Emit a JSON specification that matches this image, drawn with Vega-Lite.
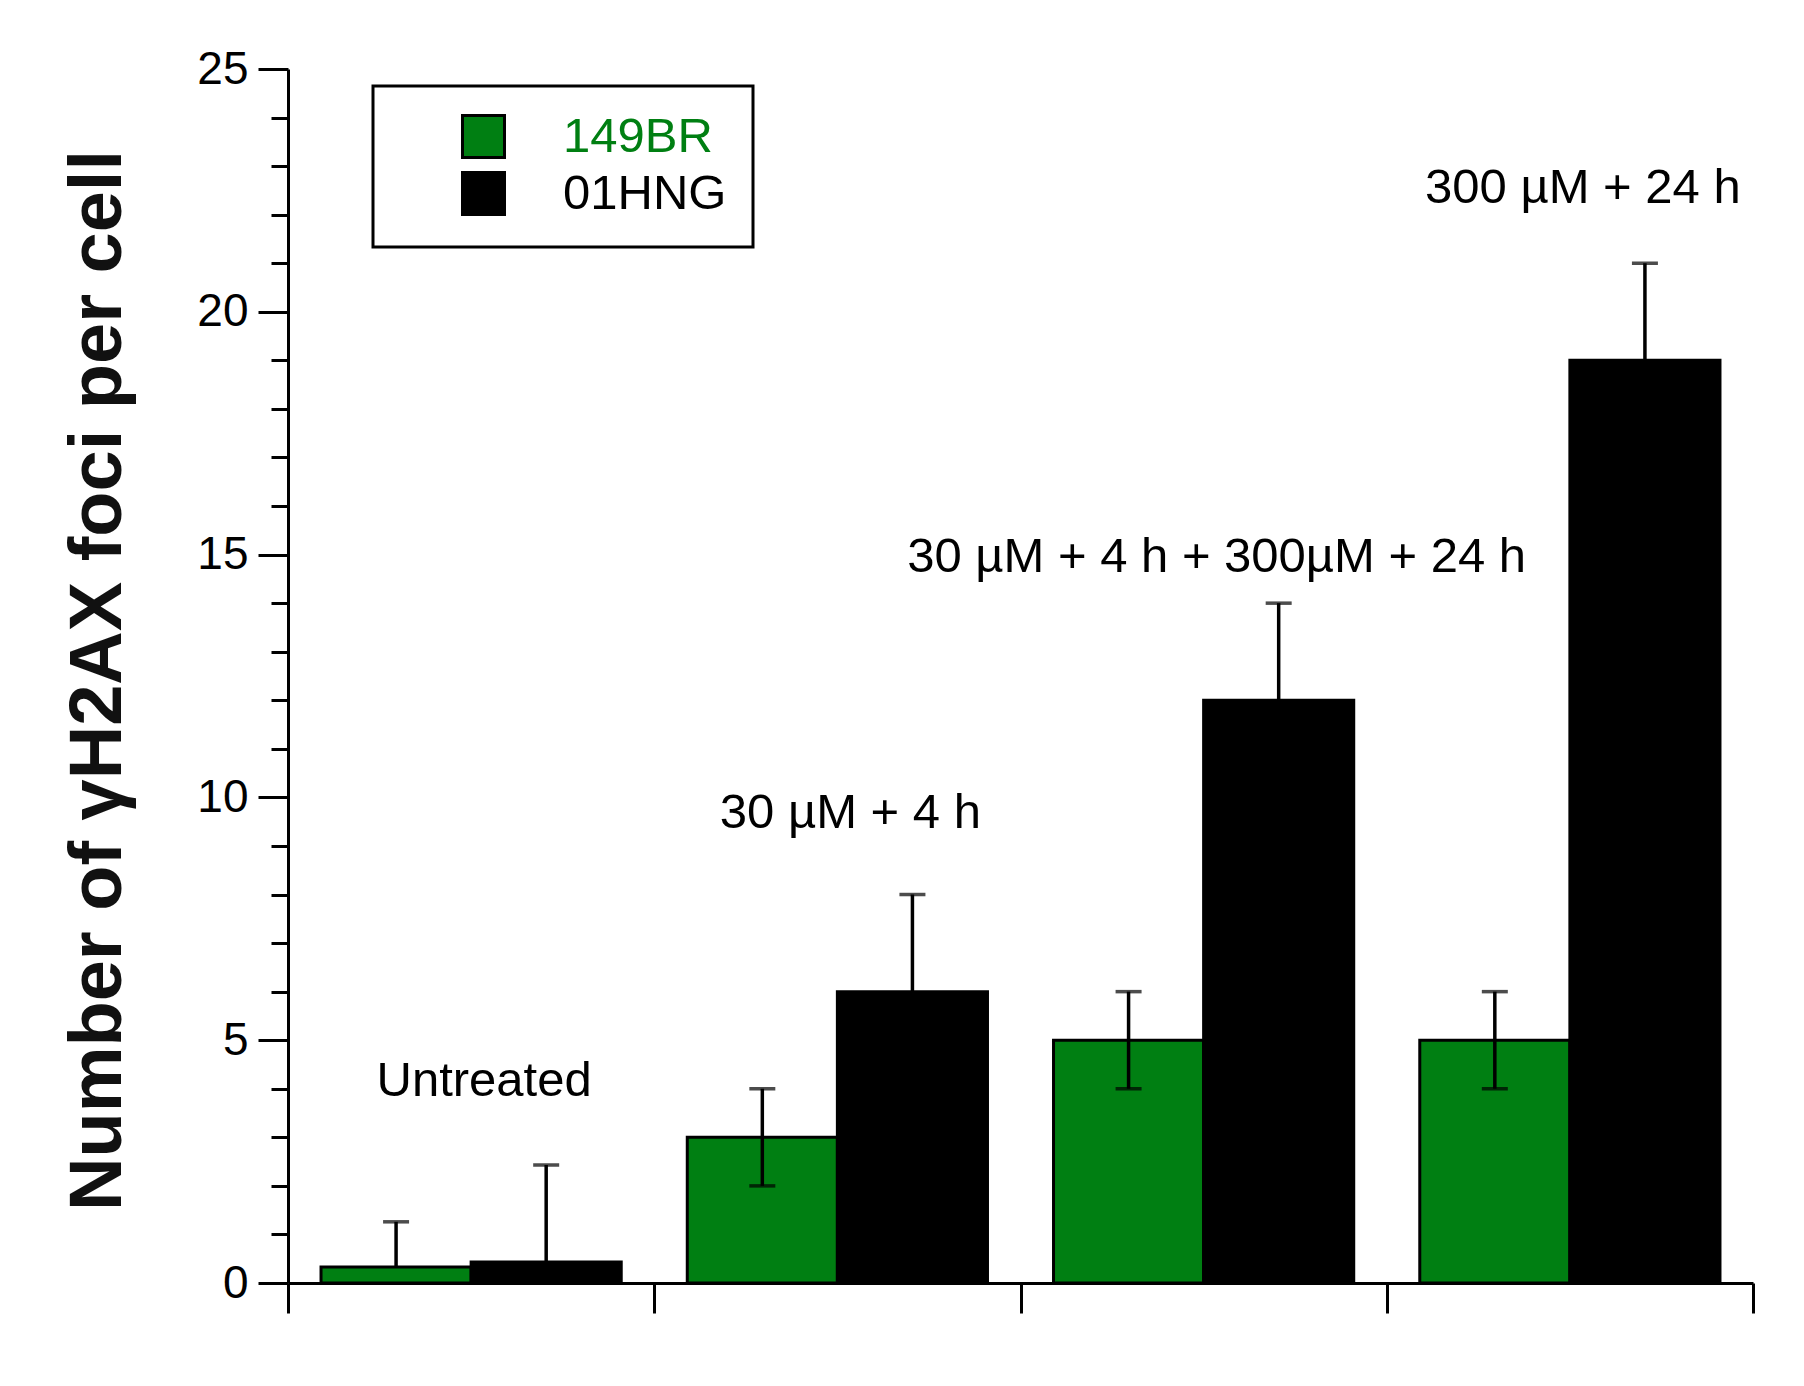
{
  "$schema": "https://vega.github.io/schema/vega-lite/v6.json",
  "description": "Number of gammaH2AX foci per cell for 149BR and 01HNG cells under four treatments.",
  "autosize": {"type": "none"},
  "width": 1465,
  "height": 1214,
  "padding": {"left": 288, "top": 69, "right": 51, "bottom": 103},
  "background": "white",
  "config": {
    "view": {"stroke": null},
    "font": "Liberation Sans"
  },
  "datasets": {
    "bars": [
      {"group": "Untreated", "cell": "149BR", "value": 0.33, "lo": 0.33, "hi": 1.26},
      {"group": "Untreated", "cell": "01HNG", "value": 0.43, "lo": 0.43, "hi": 2.43},
      {"group": "30 µM + 4 h", "cell": "149BR", "value": 3, "lo": 2, "hi": 4},
      {"group": "30 µM + 4 h", "cell": "01HNG", "value": 6, "lo": 6, "hi": 8},
      {"group": "30 µM + 4 h + 300µM + 24 h", "cell": "149BR", "value": 5, "lo": 4, "hi": 6},
      {"group": "30 µM + 4 h + 300µM + 24 h", "cell": "01HNG", "value": 12, "lo": 12, "hi": 14},
      {"group": "300 µM + 24 h", "cell": "149BR", "value": 5, "lo": 4, "hi": 6},
      {"group": "300 µM + 24 h", "cell": "01HNG", "value": 19, "lo": 19, "hi": 21}
    ],
    "notes": [
      {"group": "Untreated", "label": "Untreated", "at": 3.85},
      {"group": "30 µM + 4 h", "label": "30 µM + 4 h", "at": 9.37},
      {"group": "30 µM + 4 h + 300µM + 24 h", "label": "30 µM + 4 h + 300µM + 24 h", "at": 14.64},
      {"group": "300 µM + 24 h", "label": "300 µM + 24 h", "at": 22.25}
    ]
  },
  "encoding": {
    "x": {
      "field": "group",
      "type": "nominal",
      "scale": {
        "domain": ["Untreated", "30 µM + 4 h", "30 µM + 4 h + 300µM + 24 h", "300 µM + 24 h"],
        "paddingInner": 0,
        "paddingOuter": 0
      },
      "axis": {
        "title": null,
        "labels": false,
        "tickBand": "extent",
        "tickSize": 30,
        "tickWidth": 3,
        "tickColor": "black",
        "domainColor": "black",
        "domainWidth": 3,
        "grid": false
      }
    }
  },
  "layer": [
    {
      "data": {"name": "bars"},
      "mark": {"type": "bar", "stroke": "black", "strokeWidth": 3},
      "encoding": {
        "xOffset": {
          "field": "cell",
          "type": "nominal",
          "scale": {"domain": ["149BR", "01HNG"], "paddingOuter": 0.22, "paddingInner": 0}
        },
        "y": {
          "field": "value",
          "type": "quantitative",
          "scale": {"domain": [0, 25], "nice": false},
          "axis": {
            "title": "Number of γH2AX foci per cell",
            "titleFont": "Liberation Sans",
            "titleFontSize": 74,
            "titleFontWeight": "bold",
            "titleColor": "#111111",
            "titleBaseline": "alphabetic",
            "titleX": -168,
            "titleY": 611,
            "titleAngle": -90,
            "values": [0, 1, 2, 3, 4, 5, 6, 7, 8, 9, 10, 11, 12, 13, 14, 15, 16, 17, 18, 19, 20, 21, 22, 23, 24, 25],
            "labelExpr": "datum.value % 5 === 0 ? datum.label : ''",
            "tickSize": {"condition": {"test": "datum.value % 5 === 0", "value": 30}, "value": 17},
            "tickWidth": 3,
            "tickColor": "black",
            "domainColor": "black",
            "domainWidth": 3,
            "labelFont": "Liberation Sans",
            "labelFontSize": 46,
            "labelColor": "black",
            "labelPadding": 10,
            "grid": false
          }
        },
        "color": {
          "field": "cell",
          "type": "nominal",
          "scale": {"domain": ["149BR", "01HNG"], "range": ["#007f12", "#000000"]},
          "legend": {
            "title": null,
            "orient": "none",
            "legendX": 85,
            "legendY": 17,
            "symbolType": "square",
            "symbolSize": 1764,
            "symbolStrokeColor": "black",
            "symbolStrokeWidth": 3,
            "symbolOffset": 60,
            "labelFont": "Liberation Sans",
            "labelFontSize": 49,
            "labelOffset": 55,
            "labelLimit": 400,
            "rowPadding": 2,
            "padding": 26,
            "strokeColor": "black",
            "fillColor": "white",
            "cornerRadius": 0,
            "encode": {
              "legend": {
                "update": {"strokeWidth": {"value": 3}}
              },
              "labels": {
                "update": {
                  "fill": {"signal": "datum.label === '149BR' ? '#007f12' : '#000000'"}
                }
              }
            }
          }
        }
      }
    },
    {
      "data": {"name": "bars"},
      "mark": {"type": "rule", "color": "black", "strokeWidth": 3.5},
      "encoding": {
        "xOffset": {"field": "cell", "type": "nominal"},
        "y": {"field": "lo", "type": "quantitative"},
        "y2": {"field": "hi"}
      }
    },
    {
      "data": {"name": "bars"},
      "mark": {"type": "tick", "orient": "horizontal", "color": "black", "size": 26, "thickness": 3.5},
      "encoding": {
        "xOffset": {"field": "cell", "type": "nominal"},
        "y": {"field": "hi", "type": "quantitative"}
      }
    },
    {
      "data": {"name": "bars"},
      "transform": [{"filter": "datum.lo < datum.value"}],
      "mark": {"type": "tick", "orient": "horizontal", "color": "black", "size": 26, "thickness": 3.5},
      "encoding": {
        "xOffset": {"field": "cell", "type": "nominal"},
        "y": {"field": "lo", "type": "quantitative"}
      }
    },
    {
      "data": {"name": "notes"},
      "mark": {
        "type": "text",
        "font": "Liberation Sans",
        "fontSize": 49,
        "color": "black",
        "align": "center",
        "baseline": "alphabetic",
        "dx": 13
      },
      "encoding": {
        "y": {"field": "at", "type": "quantitative"},
        "text": {"field": "label"}
      }
    }
  ]
}
